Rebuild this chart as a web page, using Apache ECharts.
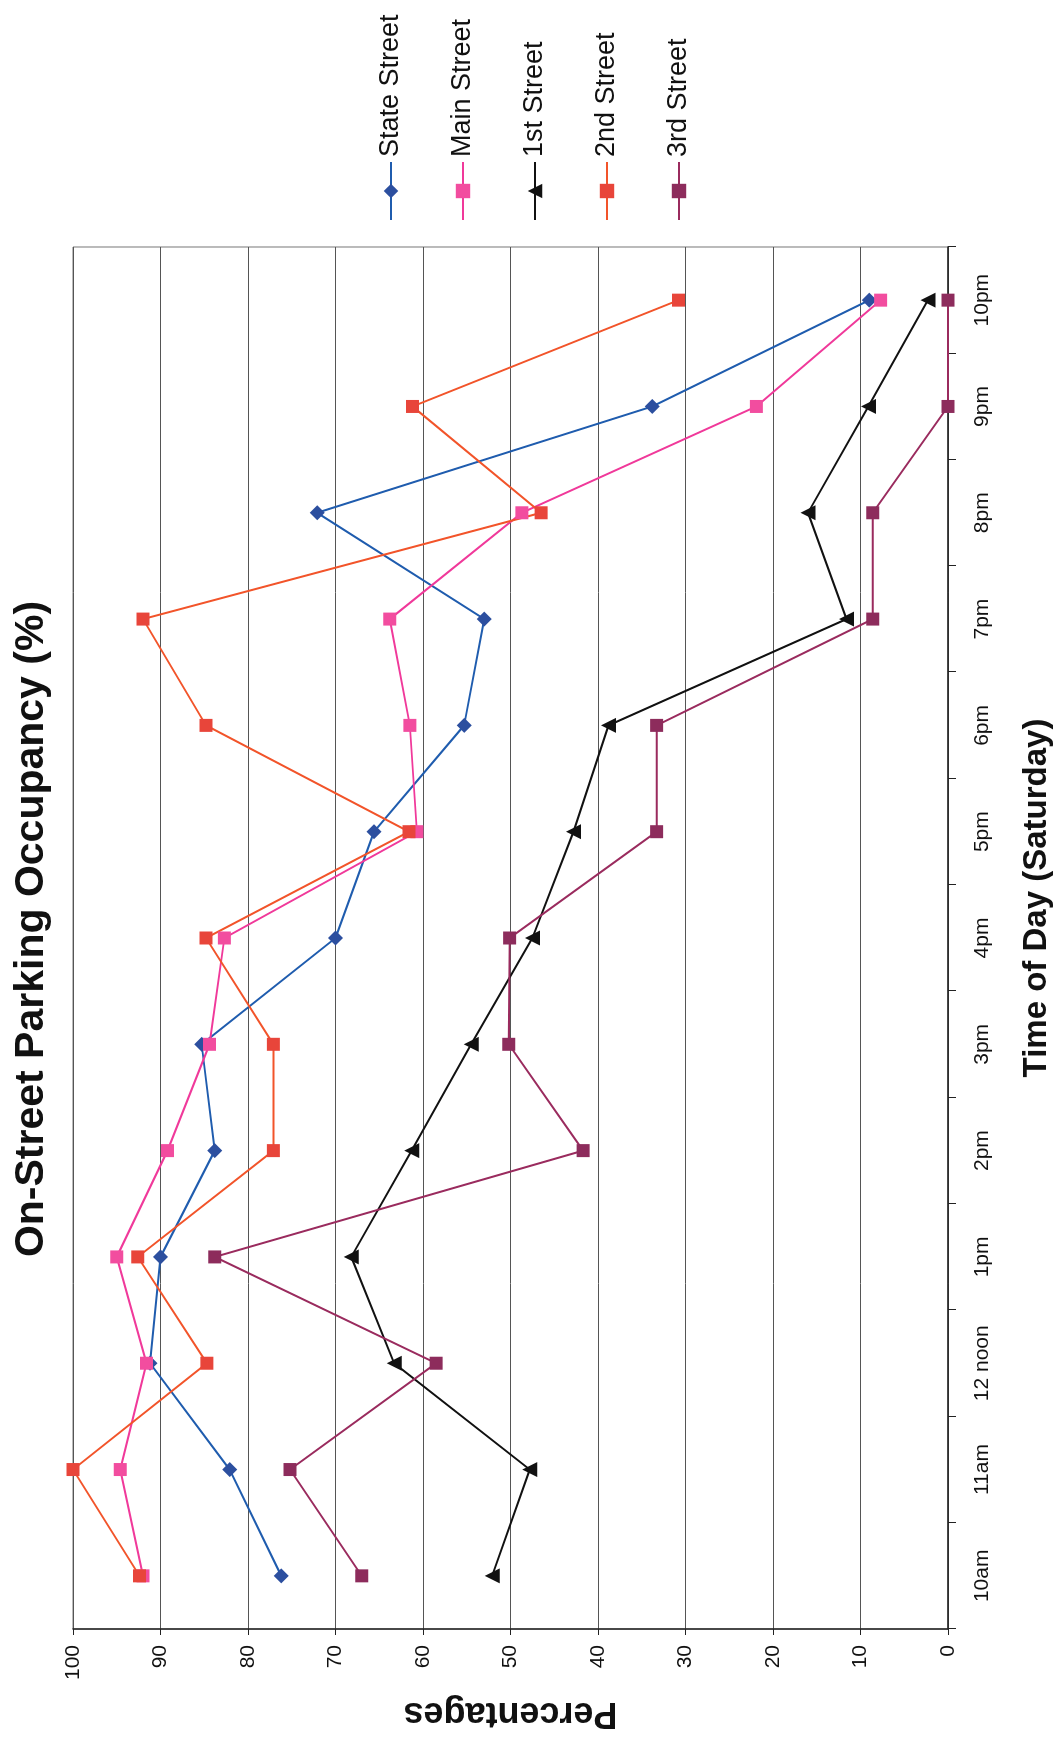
<!DOCTYPE html>
<html>
<head>
<meta charset="utf-8">
<script src="https://cdn.jsdelivr.net/npm/echarts@6/dist/echarts.min.js"></script>
<style>
  html, body { margin: 0; padding: 0; background: #ffffff; overflow: hidden; }
  body { width: 1060px; height: 1739px; position: relative; }
  /* The chart is laid out landscape and turned a quarter turn on the page */
  #chart {
    position: absolute; left: 0; top: 0;
    width: 1739px; height: 1060px;
    transform-origin: 0 0;
    transform: translate(0px, 1739px) rotate(-90deg);
  }
</style>
</head>
<body>
<div id="chart"></div>
<script>
// Time of day (Saturday)
const times = ['10am', '11am', '12 noon', '1pm', '2pm', '3pm', '4pm', '5pm', '6pm', '7pm', '8pm', '9pm', '10pm'];

// Occupancy, percent of spaces in use
const stateStreet  = [76.2, 82.1, 91.2, 90.0, 83.8, 85.3, 70.0, 65.6, 55.3, 53.0, 72.1, 33.8, 9.0];
const mainStreet   = [92.0, 94.6, 91.6, 95.0, 89.2, 84.4, 82.7, 60.7, 61.5, 63.8, 48.7, 21.9, 7.7];
const firstStreet  = [52.1, 47.8, 63.3, 68.2, 61.3, 54.5, 47.5, 42.8, 38.8, 11.6, 16.0, 9.1, 2.3];
const secondStreet = [92.4, 100.0, 84.7, 92.6, 77.1, 77.1, 84.8, 61.6, 84.8, 92.0, 46.5, 61.2, 30.8];
const thirdStreet  = [67.0, 75.2, 58.5, 83.8, 41.7, 50.2, 50.1, 33.3, 33.3, 8.6, 8.6, 0, 0];

// Value axis ticks
const pctMin = 0, pctMax = 100, pctStep = 10;

const FONT = "'Liberation Sans', Arial, Helvetica, sans-serif";

function lineSeries(name, data, lineColor, markColor, symbol, size) {
  return {
    name: name,
    type: 'line',
    data: data,
    symbol: symbol,
    symbolSize: size,
    showSymbol: true,
    lineStyle: { color: lineColor, width: 2 },
    itemStyle: { color: markColor, borderColor: markColor, borderWidth: 0 },
    emphasis: { disabled: true }
  };
}

const chart = echarts.init(document.getElementById('chart'), null, { renderer: 'canvas' });

chart.setOption({
  animation: false,
  backgroundColor: '#ffffff',
  title: {
    text: 'On-Street Parking Occupancy (%)',
    left: 805,
    top: 6,
    textAlign: 'center',
    textStyle: { fontFamily: FONT, fontSize: 41, fontWeight: 'bold', color: '#111111' }
  },
  legend: {
    orient: 'vertical',
    left: 1513,
    top: 372,
    itemWidth: 58,
    itemHeight: 18,
    itemGap: 44,
    textStyle: { fontFamily: FONT, fontSize: 27, color: '#111111', lineHeight: 28 },
    data: ['State Street', 'Main Street', '1st Street', '2nd Street', '3rd Street']
  },
  grid: {
    left: 107,
    right: 247,
    top: 73,
    bottom: 112,
    show: true,
    borderColor: '#777777',
    borderWidth: 1,
    containLabel: false
  },
  xAxis: {
    type: 'category',
    data: times,
    boundaryGap: true,
    name: 'Time of Day (Saturday)',
    nameLocation: 'middle',
    nameGap: 72,
    nameTextStyle: { fontFamily: FONT, fontSize: 33, fontWeight: 'bold', color: '#111111', padding: [0, 0, 0, 80] },
    axisLine: { show: true, lineStyle: { color: '#222222', width: 1.5 } },
    axisTick: { show: true, length: 8, alignWithLabel: false, lineStyle: { color: '#222222' } },
    axisLabel: { fontFamily: FONT, fontSize: 21, color: '#111111', margin: 24, interval: 0 },
    splitLine: { show: false }
  },
  yAxis: {
    type: 'value',
    min: pctMin,
    max: pctMax,
    interval: pctStep,
    name: 'Percentages',
    nameLocation: 'middle',
    nameGap: 66,
    nameTextStyle: { fontFamily: FONT, fontSize: 36, fontWeight: 'bold', color: '#111111' },
    axisLine: { show: true, lineStyle: { color: '#222222', width: 1.5 } },
    axisTick: { show: true, length: 6, lineStyle: { color: '#222222' } },
    axisLabel: { fontFamily: FONT, fontSize: 21, color: '#111111', margin: 16 },
    splitLine: { show: true, lineStyle: { color: '#555555', width: 1 } }
  },
  series: [
    lineSeries('State Street', stateStreet, '#1f5cae', '#2c4f9f', 'diamond', 15),
    lineSeries('Main Street', mainStreet, '#f0399a', '#f24d9f', 'rect', 13),
    lineSeries('1st Street', firstStreet, '#111111', '#111111', 'triangle', 15),
    lineSeries('2nd Street', secondStreet, '#f2542a', '#e8453a', 'rect', 13),
    lineSeries('3rd Street', thirdStreet, '#9a2b5e', '#8d2c5c', 'rect', 13)
  ]
});
</script>
</body>
</html>
